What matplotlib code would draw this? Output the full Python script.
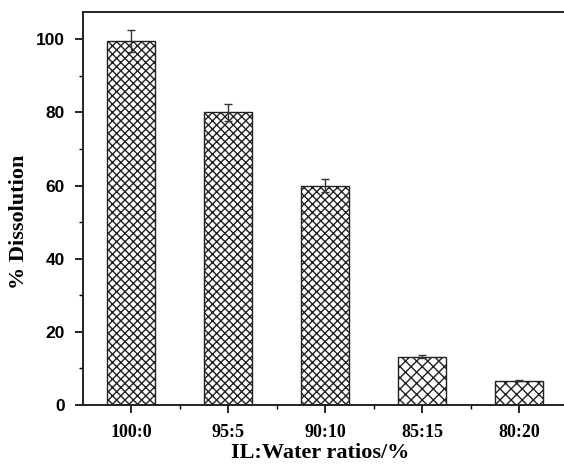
import numpy as np
import matplotlib.pyplot as plt
from matplotlib.ticker import MultipleLocator

# data
ratios = ['100:0', '95:5', '90:10', '85:15', '80:20']
dissolution = [99.5, 80.0, 60.0, 13.2, 6.7]
errors = [3.0, 2.4, 1.8, 0.4, 0.2]
hatches = ['xxxx', 'xxxx', 'xxxx', 'xxx', 'xxx']

plt.rcParams['hatch.linewidth'] = 1.0
plt.rcParams['hatch.color'] = 'black'

fig = plt.figure(figsize=(5.64, 4.65), dpi=100)
ax = fig.add_axes([0.1466, 0.129, 0.86, 0.845])

x = np.arange(len(ratios))
bars = ax.bar(x, dissolution, width=0.5, color='white', edgecolor='#222222', linewidth=1.0)
for b, h in zip(bars, hatches):
    b.set_hatch(h)
ax.errorbar(x, dissolution, yerr=errors, fmt='none', ecolor='#333333',
            elinewidth=1.0, capsize=3, capthick=1.0)

ax.set_xlim(-0.5, 4.5)
ax.set_ylim(0, 107.4)
ax.set_xticks(x)
ax.set_xticklabels(ratios, family='Liberation Serif', weight='bold', fontsize=13)
ax.xaxis.set_minor_locator(plt.FixedLocator(x[:-1] + 0.5))
ax.yaxis.set_major_locator(MultipleLocator(20))
ax.yaxis.set_minor_locator(MultipleLocator(10))
for lab in ax.get_yticklabels():
    lab.set_family('Liberation Sans')
    lab.set_weight('bold')
    lab.set_fontsize(12.5)

ax.tick_params(which='major', direction='out', length=6, width=1.2, pad=8)
ax.tick_params(which='minor', direction='out', length=3, width=1.0)
ax.tick_params(axis='y', which='major', pad=7)

for s in ax.spines.values():
    s.set_linewidth(1.4)
    s.set_color('#222222')

# axis titles placed in figure pixels to match the original layout
fig.text(320 / 564, 1 - 453 / 465, 'IL:Water ratios/%', ha='center', va='center',
         family='Liberation Serif', weight='bold', fontsize=16)
fig.text(19 / 564, 1 - 222 / 465, '% Dissolution', rotation=90,
         ha='center', va='center', family='Liberation Serif', weight='bold',
         fontsize=16)

fig.savefig('out.png', dpi=100)
